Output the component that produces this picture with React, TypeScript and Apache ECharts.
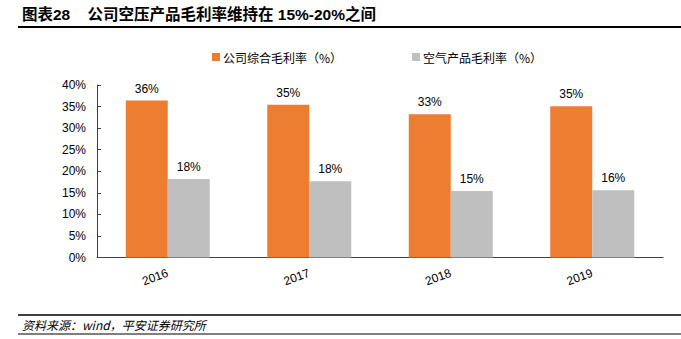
import React, { useEffect, useRef } from "react";
import * as echarts from "echarts";

const categories = ["2016", "2017", "2018", "2019"];
const overallMargin = [36.4, 35.4, 33.2, 35.1];
const airMargin = [18.2, 17.7, 15.4, 15.6];
const seriesNames = ["公司综合毛利率（%）", "空气产品毛利率（%）"];
const titleText = "图表28    公司空压产品毛利率维持在 15%-20%之间";
const sourceText = "资料来源：wind，平安证券研究所";

const FONT = "'Liberation Sans', Arial, 'Noto Sans CJK SC', sans-serif";

export default function App() {
  const ref = useRef<HTMLDivElement>(null);
  useEffect(() => {
    if (!ref.current) return;
    const chart = echarts.init(ref.current, null, { renderer: "svg" });
    chart.setOption({
      animation: false,
      textStyle: { fontFamily: FONT },
      legend: {
        left: 207,
        top: 46,
        itemWidth: 8,
        itemHeight: 8,
        itemGap: 70,
        icon: "rect",
        textStyle: { fontSize: 12, color: "#000", fontFamily: "'Noto Sans CJK SC', sans-serif", padding: [0, 0, 0, -2] },
        data: seriesNames,
      },
      grid: { left: 97, right: 18, top: 85, bottom: 81.5 },
      xAxis: {
        type: "category",
        data: categories,
        axisLine: { lineStyle: { color: "#404040", width: 1 } },
        axisTick: { inside: true, length: 4, lineStyle: { color: "#404040" } },
        axisLabel: { rotate: 20, fontSize: 12, color: "#000", margin: 15 },
      },
      yAxis: {
        type: "value",
        min: 0,
        max: 40,
        interval: 5,
        axisLine: { show: true, lineStyle: { color: "#404040", width: 1 } },
        axisTick: { show: true, inside: true, length: 4, lineStyle: { color: "#404040" } },
        splitLine: { show: false },
        axisLabel: { formatter: "{value}%", fontSize: 12, color: "#000", margin: 11 },
      },
      series: [
        {
          name: seriesNames[0],
          type: "bar",
          data: overallMargin,
          barWidth: 42,
          barGap: "0%",
          itemStyle: { color: "#ED7D31" },
          label: {
            show: true,
            position: "top",
            distance: 6,
            fontSize: 12,
            color: "#000",
            formatter: (p: any) => Math.round(p.value) + "%",
          },
        },
        {
          name: seriesNames[1],
          type: "bar",
          data: airMargin,
          barWidth: 42,
          barGap: "0%",
          itemStyle: { color: "#BFBFBF" },
          label: {
            show: true,
            position: "top",
            distance: 6,
            fontSize: 12,
            color: "#000",
            formatter: (p: any) => Math.round(p.value) + "%",
          },
        },
      ],
      graphic: [
        {
          type: "text",
          left: 22,
          top: 7,
          style: {
            text: titleText,
            fontSize: 15.5,
            fontWeight: "bold",
            fill: "#000",
            fontFamily: "'Liberation Sans', Arial, 'Noto Sans CJK SC', sans-serif",
          },
        },
        {
          type: "line",
          shape: { x1: 18, y1: 27, x2: 681, y2: 27 },
          style: { stroke: "#000", lineWidth: 2 },
        },
        {
          type: "line",
          shape: { x1: 18, y1: 315, x2: 681, y2: 315 },
          style: { stroke: "#000", lineWidth: 1.5 },
        },
        {
          type: "text",
          left: 22,
          top: 318,
          style: {
            text: sourceText,
            fontSize: 12,
            fontStyle: "italic",
            fill: "#000",
            fontFamily: "'Noto Sans CJK SC', sans-serif",
          },
        },
        {
          type: "line",
          shape: { x1: 18, y1: 334, x2: 681, y2: 334 },
          style: { stroke: "#000", lineWidth: 1 },
        },
      ],
    });
    return () => chart.dispose();
  }, []);
  return <div ref={ref} style={{ width: 681, height: 339, position: "absolute", left: 0, top: 0 }} />;
}
